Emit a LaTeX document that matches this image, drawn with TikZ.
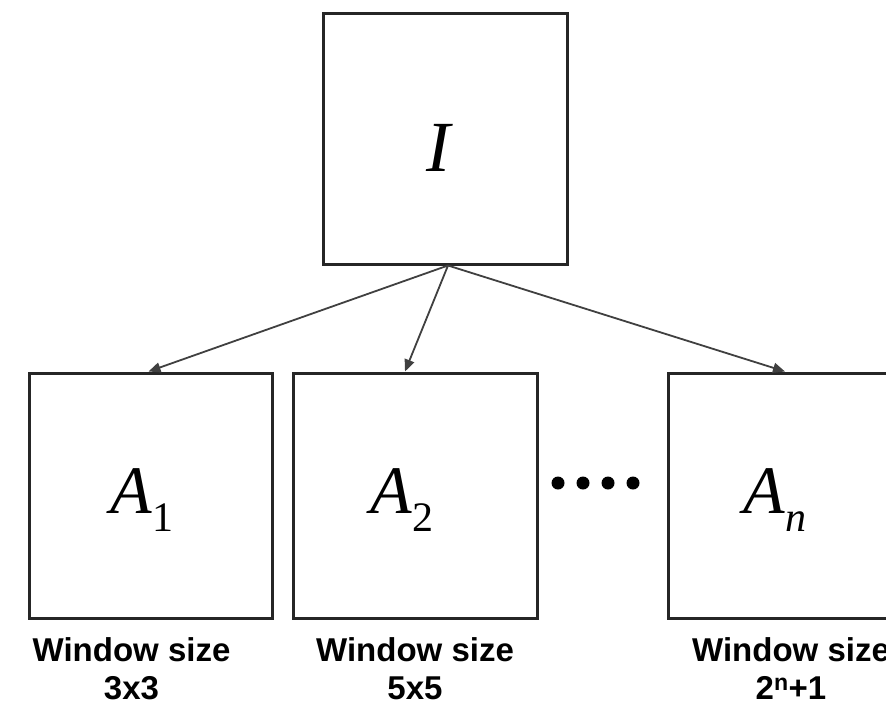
\documentclass[tikz,border=0pt]{standalone}
\usepackage{fontspec}
\setmainfont{Liberation Serif}
\setsansfont{Liberation Sans}
\usetikzlibrary{arrows.meta}

\tikzset{
  panel/.style={draw=black!85, line width=3pt, fill=white, inner sep=0pt},
  link/.style={draw=black!75, line width=1.8pt,
    -{Triangle[length=12pt,width=10pt]}},
  sym/.style={inner sep=0pt, anchor=base west,
    font=\fontsize{68}{68}\selectfont\itshape},
  caption/.style={inner sep=0pt, align=center,
    font=\sffamily\bfseries\fontsize{33}{38}\selectfont},
  dot/.style={fill=black, draw=none, circle, minimum size=13pt, inner sep=0pt}
}
\newcommand{\subidx}[1]{\raisebox{-18pt}{\fontsize{42}{42}\selectfont #1}}

\begin{document}
\begin{tikzpicture}[x=1pt,y=-1pt]
  \useasboundingbox (0,0) rectangle (886,705);

  % input image and the filtered images
  \node[panel, minimum width=244pt, minimum height=251pt] (I)  at (445,138.5) {};
  \node[panel, minimum width=243pt, minimum height=245pt] (A1) at (150.5,495.5) {};
  \node[panel, minimum width=244pt, minimum height=245pt] (A2) at (415,495.5) {};
  \node[panel, minimum width=244pt, minimum height=245pt] (An) at (790,495.5) {};

  % symbols inside the panels
  \node[sym, font=\fontsize{72}{72}\selectfont\itshape] (tI) at (426,171) {I};
  \node[sym] (tA1) at (110.5,513) {A\subidx{\upshape 1}};
  \node[sym] (tA2) at (370.5,513) {A\subidx{\upshape 2}};
  \node[sym] (tAn) at (743.5,513) {A\subidx{n}};

  % connectors from the input image
  \coordinate (src) at ([xshift=3pt]I.south);
  \draw[link] (src) -- ([xshift=-2pt]A1.north);
  \draw[link] (src) -- ([xshift=-10pt]A2.north);
  \draw[link] (src) -- ([xshift=-5pt]An.north);

  % ellipsis between the panels
  \node[dot] (d1) at (558,483) {};
  \node[dot] (d2) at (583,483) {};
  \node[dot] (d3) at (608,483) {};
  \node[dot] (d4) at (633,483) {};

  % window sizes
  \node[caption, anchor=north] (c1) at (131.5,637) {Window size\\3x3};
  \node[caption, anchor=north] (c2) at (415,637) {Window size\\5x5};
  \node[caption, anchor=north] (c3) at (791,637) {Window size\\2\textsuperscript{n}+1};
\end{tikzpicture}
\end{document}
